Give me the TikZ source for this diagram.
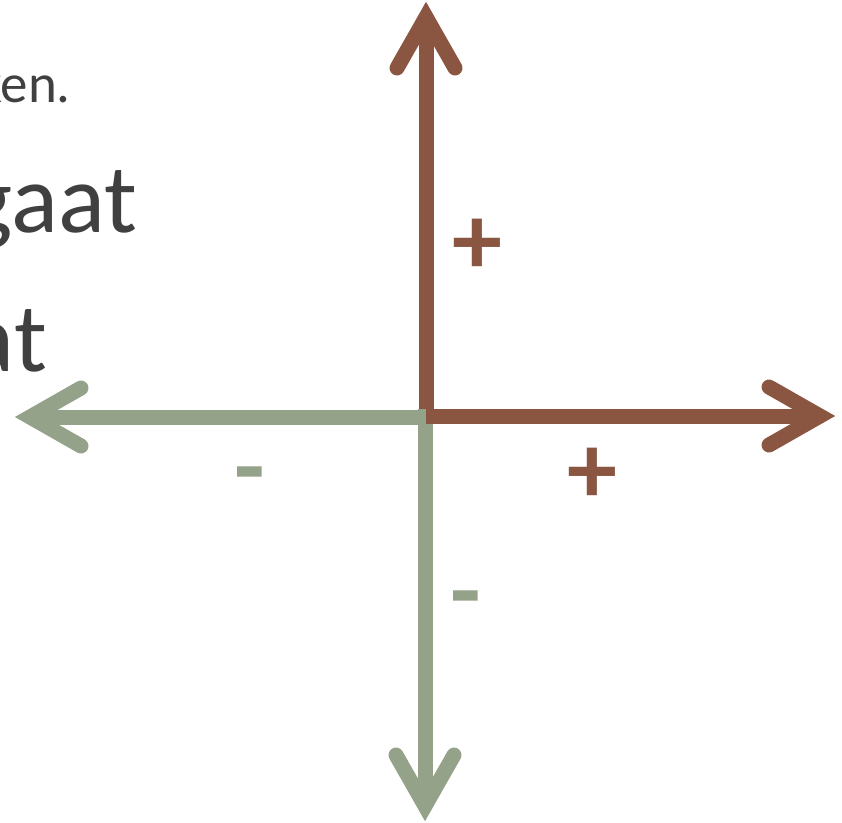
\documentclass[tikz,border=0pt]{standalone}
\usepackage{fontspec}
\setmainfont{Carlito}
\definecolor{axbrown}{HTML}{8A5642}
\definecolor{axgreen}{HTML}{95A28A}
\definecolor{txtgray}{HTML}{404040}
\begin{document}
\begin{tikzpicture}[x=1pt,y=-1pt,
  shaft/.style={line width=15pt,line cap=butt},
  chevron/.style={line width=15pt,line cap=round,line join=miter},
  bigtxt/.style={inner sep=0pt,text=txtgray,font=\fontsize{98}{110}\selectfont,anchor=base east},
  smalltxt/.style={inner sep=0pt,text=txtgray,font=\fontsize{55}{64}\selectfont,anchor=base east},
  sign/.style={inner sep=0pt,font=\bfseries\fontsize{100}{110}\selectfont}]
\useasboundingbox (0,0) rectangle (842,822);
% text fragments
\node[smalltxt] (t1) at (71,102) {ken.};
\node[bigtxt] (t2) at (137,232) {gaat};
\node[bigtxt] (t3) at (47,371) {at};
% coordinates
\coordinate (Ob) at (426,416);
\coordinate (Og) at (425,417);
\coordinate (Ogv) at (425,409);
\coordinate (N) at (426,17);
\coordinate (Nl) at (397,68);
\coordinate (Nr) at (455,68);
\coordinate (E) at (820,416);
\coordinate (Eu) at (769,387);
\coordinate (Ed) at (769,445);
\coordinate (S) at (425,806);
\coordinate (Sl) at (396,755);
\coordinate (Sr) at (454,755);
\coordinate (W) at (30,417);
\coordinate (Wu) at (81,388);
\coordinate (Wd) at (81,446);
% green arrows
\draw[shaft,axgreen] (Og) -- (W);
\draw[chevron,axgreen] (Wu) -- (W) -- (Wd);
\draw[shaft,axgreen] (Ogv) -- (S);
\draw[chevron,axgreen] (Sl) -- (S) -- (Sr);
% brown arrows
\draw[shaft,axbrown] ([yshift=7pt]Ob) -- (N);
\draw[chevron,axbrown] (Nl) -- (N) -- (Nr);
\draw[shaft,axbrown] (Ob) -- (E);
\draw[chevron,axbrown] (Eu) -- (E) -- (Ed);
% signs
\node[sign,text=axbrown] (p1) at (477,247) {+};
\node[sign,text=axbrown] (p2) at (592,476) {+};
\node[sign,text=axgreen] (m1) at (250,484) {-};
\node[sign,text=axgreen] (m2) at (466,608) {-};
\end{tikzpicture}
\end{document}
